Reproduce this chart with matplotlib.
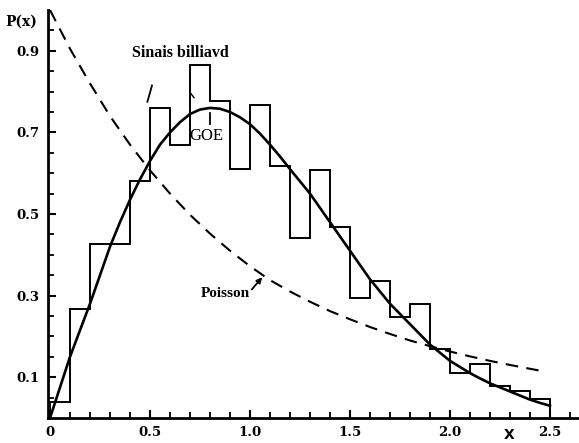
import numpy as np
import matplotlib
matplotlib.use("Agg")
import matplotlib.pyplot as plt

# histogram of level spacings (Sinai billiard), bins of 0.1
edges = [0.0, 0.1, 0.2, 0.3, 0.4, 0.5, 0.6, 0.7, 0.8, 0.9, 1.0, 1.1, 1.2,
         1.3, 1.4, 1.5, 1.6, 1.7, 1.8, 1.9, 2.0, 2.1, 2.2, 2.3, 2.4, 2.5]
hist = [0.04, 0.267, 0.427, 0.427, 0.58, 0.76, 0.67, 0.865, 0.777, 0.61,
        0.767, 0.618, 0.441, 0.608, 0.468, 0.294, 0.336, 0.248, 0.279,
        0.169, 0.110, 0.132, 0.078, 0.066, 0.047]

# GOE curve (every 0.05)
goe_x = [0.0, 0.05, 0.1, 0.15, 0.2, 0.25, 0.3, 0.35, 0.4, 0.45, 0.5, 0.55,
         0.6, 0.65, 0.7, 0.75, 0.8, 0.85, 0.9, 0.95, 1.0, 1.05, 1.1, 1.15,
         1.2, 1.25, 1.3, 1.35, 1.4, 1.45, 1.5, 1.55, 1.6, 1.65, 1.7, 1.75,
         1.8, 1.85, 1.9, 1.95, 2.0, 2.05, 2.1, 2.15, 2.2, 2.25, 2.3, 2.35,
         2.4, 2.45, 2.5]
goe_y = [0.0, 0.075, 0.15, 0.215, 0.28, 0.35, 0.42, 0.48, 0.535, 0.585,
         0.63, 0.67, 0.70, 0.725, 0.745, 0.756, 0.76, 0.758, 0.75, 0.737,
         0.72, 0.697, 0.67, 0.641, 0.61, 0.58, 0.55, 0.515, 0.48, 0.445,
         0.41, 0.375, 0.34, 0.31, 0.28, 0.255, 0.23, 0.205, 0.18, 0.16,
         0.14, 0.125, 0.11, 0.097, 0.085, 0.075, 0.065, 0.055, 0.045,
         0.037, 0.03]

# Poisson curve
poi_x = [0.0, 0.1, 0.2, 0.3, 0.4, 0.5, 0.6, 0.7, 0.8, 0.9, 1.0, 1.1, 1.2,
         1.3, 1.4, 1.5, 1.6, 1.7, 1.8, 1.9, 2.0, 2.1, 2.2, 2.3, 2.45]
poi_y = [1.0, 0.905, 0.82, 0.74, 0.67, 0.607, 0.55, 0.498, 0.452, 0.41,
         0.372, 0.338, 0.31, 0.285, 0.262, 0.242, 0.223, 0.206, 0.19,
         0.176, 0.163, 0.151, 0.14, 0.13, 0.116]

xtick_vals = [0, 0.5, 1.0, 1.5, 2.0, 2.5]
xtick_text = ["0", "0.5", "1.0", "1.5", "2.0", "2.5"]
ytick_vals = [0.1, 0.3, 0.5, 0.7, 0.9]
ytick_text = ["0.1", "0.3", "0.5", "0.7", "0.9"]

fig = plt.figure(figsize=(5.79, 4.43), dpi=100)
ax = fig.add_axes([48 / 579, 25 / 443, 531 / 579, 408 / 443])

ax.stairs(hist, edges, color="black", linewidth=1.4, baseline=0)
ax.plot(goe_x, goe_y, color="black", linewidth=1.9)
ax.plot(poi_x, poi_y, color="black", linewidth=1.5, dashes=(6, 4))

ax.set_xlim(-0.01, 2.645)
ax.set_ylim(0.0, 1.0)

for s in ["top", "right"]:
    ax.spines[s].set_visible(False)
for s in ["left", "bottom"]:
    ax.spines[s].set_linewidth(2.0)

ax.set_xticks(xtick_vals)
ax.set_xticklabels(xtick_text)
ax.set_xticks(np.arange(0, 2.65, 0.1), minor=True)
ax.set_yticks(ytick_vals)
ax.set_yticklabels(ytick_text)
ax.set_yticks(np.arange(0.05, 1.0, 0.05), minor=True)
ax.tick_params(which="major", direction="in", length=6, width=1.5, pad=6)
ax.tick_params(which="minor", direction="in", length=4, width=1.3)
for lab in ax.get_xticklabels() + ax.get_yticklabels():
    lab.set_fontfamily("DejaVu Serif")
    lab.set_fontweight("bold")
    lab.set_fontsize(9.5)

# labels on the plot
ax.text(0.41, 0.895, "Sinais billiavd", family="Liberation Serif",
        fontweight="bold", fontsize=11.5, va="center", ha="left")
ax.plot([0.51, 0.487], [0.815, 0.775], color="black", linewidth=1.3)
ax.text(0.78, 0.69, "GOE", family="Liberation Serif", fontsize=12,
        va="center", ha="center")
ax.plot([0.80, 0.80], [0.748, 0.72], color="black", linewidth=1.3)
ax.plot([0.705, 0.72], [0.795, 0.785], color="black", linewidth=1.0)
ax.text(0.875, 0.306, "Poisson", family="Liberation Serif",
        fontweight="bold", fontsize=11, va="center", ha="center")
ax.annotate("", xy=(1.07, 0.35), xytext=(1.0, 0.31),
            arrowprops=dict(arrowstyle="-|>", color="black", lw=1.3,
                            mutation_scale=8))

fig.text(5 / 579, 1 - 22 / 443, "P(x)", family="DejaVu Serif",
         fontweight="bold", fontsize=10, va="center", ha="left")
fig.text(509 / 579, 1 - 435 / 443, "X", family="DejaVu Sans",
         fontweight="bold", fontsize=10, va="center", ha="center")

fig.savefig("out.png", dpi=100)
